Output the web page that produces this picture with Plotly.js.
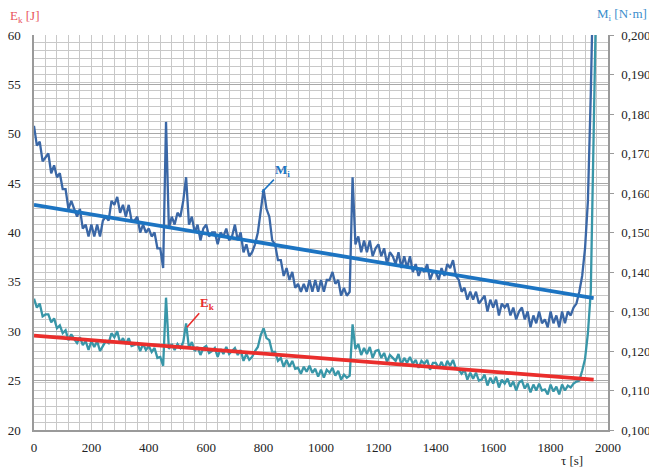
<!DOCTYPE html>
<html>
<head>
<meta charset="utf-8">
<script src="https://cdn.plot.ly/plotly-3.0.1.min.js"></script>
</head>
<body style="margin:0">
<div id="chart"></div>
<script>
// sampling of the measured series: start time and step [s]
const sampleStart = 0;
const sampleStep = 10;

// M_i [N·m], one value every 10 s from 0 s
const miValues = [
  0.177,0.172,0.173,0.168,0.169,0.170,0.165,0.167,0.164,0.165,
  0.161,0.161,0.156,0.158,0.156,0.154,0.156,0.151,0.152,0.149,
  0.152,0.149,0.152,0.149,0.153,0.154,0.153,0.158,0.157,0.159,
  0.155,0.157,0.154,0.157,0.153,0.153,0.154,0.150,0.152,0.150,
  0.151,0.149,0.150,0.146,0.146,0.141,0.178,0.151,0.154,0.152,
  0.155,0.154,0.158,0.164,0.152,0.154,0.150,0.152,0.148,0.151,
  0.152,0.149,0.150,0.150,0.147,0.150,0.149,0.151,0.148,0.149,
  0.152,0.148,0.150,0.145,0.147,0.144,0.145,0.147,0.150,0.155,
  0.161,0.156,0.154,0.148,0.147,0.143,0.143,0.139,0.141,0.138,
  0.140,0.136,0.137,0.135,0.137,0.135,0.138,0.135,0.138,0.135,
  0.138,0.135,0.138,0.138,0.140,0.137,0.138,0.134,0.136,0.134,
  0.135,0.164,0.147,0.149,0.145,0.148,0.145,0.148,0.144,0.146,
  0.147,0.144,0.146,0.142,0.145,0.144,0.142,0.145,0.141,0.144,
  0.141,0.144,0.140,0.142,0.139,0.141,0.140,0.142,0.138,0.140,
  0.140,0.138,0.141,0.139,0.142,0.141,0.143,0.139,0.138,0.135,
  0.136,0.133,0.135,0.133,0.135,0.132,0.133,0.134,0.130,0.133,
  0.131,0.133,0.129,0.132,0.131,0.132,0.129,0.131,0.128,0.130,
  0.131,0.128,0.130,0.126,0.129,0.127,0.130,0.127,0.128,0.126,
  0.130,0.127,0.129,0.126,0.130,0.127,0.130,0.129,0.131,0.132,
  0.135,0.139,0.146,0.158,0.185,0.220
];

// E_k [J], one value every 10 s from 0 s
const ekValues = [
  33.3,32.4,32.8,31.5,31.7,31.7,30.9,31.3,30.3,30.6,
  29.8,30.1,29.1,29.7,29.2,28.8,29.4,28.6,29.0,28.1,
  29.0,28.4,29.0,28.0,28.5,29.0,28.8,29.8,29.4,30.0,
  28.8,29.3,28.7,29.3,28.5,28.6,28.8,28.0,28.7,28.1,
  28.5,27.9,28.3,27.3,27.4,26.5,33.4,28.2,28.7,28.1,
  28.7,28.3,28.9,30.8,28.3,28.9,28.0,28.4,27.6,28.3,
  28.5,27.8,28.0,28.3,27.4,28.2,27.7,28.4,27.7,28.0,
  28.3,27.6,28.1,27.0,27.7,27.1,27.4,28.0,28.4,29.6,
  30.3,29.3,29.1,27.9,27.9,27.0,27.3,26.4,27.1,26.4,
  27.0,26.2,26.3,25.7,26.4,25.9,26.5,25.8,26.2,25.4,
  26.1,25.3,26.1,25.8,26.3,25.5,26.0,25.1,25.6,25.3,
  25.5,30.7,28.2,28.7,27.6,28.3,27.7,28.4,27.3,28.0,
  28.1,27.3,27.8,26.9,27.6,27.3,27.0,27.7,26.6,27.3,
  26.8,27.4,26.7,27.1,26.3,27.0,26.7,27.1,26.1,26.8,
  26.8,26.3,26.9,26.2,27.0,26.5,27.1,26.2,26.1,25.7,
  26.1,25.1,25.8,25.2,25.8,25.0,25.1,25.6,24.5,25.3,
  24.7,25.4,24.3,25.1,24.7,25.2,24.4,24.9,24.0,24.8,
  25.0,24.2,24.7,23.8,24.6,24.0,24.7,24.0,24.1,23.6,
  24.6,23.9,24.4,23.6,24.6,24.0,24.5,24.3,24.7,24.9,
  25.0,26.0,27.2,29.8,34.0,50.0,66.0
];

// linear trend lines (start / end)
const trendTime = [0, 1950];
const ekTrend = [29.55, 25.1];
const miTrend = [0.1570, 0.1334];

// axis ticks
const xTicks = [0, 200, 400, 600, 800, 1000, 1200, 1400, 1600, 1800, 2000];
const ekTicks = [20, 25, 30, 35, 40, 45, 50, 55, 60];
const miTicks = [0.100,0.110,0.120,0.130,0.140,0.150,0.160,0.170,0.180,0.190,0.200];

const colMi = '#3a67a6';
const colEk = '#3896a8';
const colMiTrend = '#1c74c2';
const colEkTrend = '#ea2e2c';
const gridLight = '#c8c8c8';
const gridDark = '#a8a8a8';
const axisCol = '#9a9a9a';

const traces = [
  {type:'scatter', mode:'lines', x0:sampleStart, dx:sampleStep, y:ekValues, yaxis:'y',
   line:{color:colEk, width:2.3}, hoverinfo:'skip'},
  {type:'scatter', mode:'lines', x:trendTime, y:ekTrend, yaxis:'y',
   line:{color:colEkTrend, width:3.8}, hoverinfo:'skip'},
  {type:'scatter', mode:'lines', x0:sampleStart, dx:sampleStep, y:miValues, yaxis:'y2',
   line:{color:colMi, width:2.3}, hoverinfo:'skip'},
  {type:'scatter', mode:'lines', x:trendTime, y:miTrend, yaxis:'y2',
   line:{color:colMiTrend, width:3.8}, hoverinfo:'skip'}
];

const serifFamily = 'Liberation Serif';
function txtFont(color, size) { return {family:serifFamily, size:size || 13, color:color || '#222'}; }

const layout = {
  width:649, height:470,
  margin:{l:34, r:41, t:35, b:40, pad:0},
  paper_bgcolor:'#fff', plot_bgcolor:'#fff',
  font:txtFont('#222', 13),
  separators:',.',
  showlegend:false,
  xaxis:{
    range:[0,2000], tickvals:xTicks, ticktext:xTicks.map(String),
    showgrid:true, gridcolor:gridLight, gridwidth:1.2,
    minor:{dtick:40, tick0:0, showgrid:true, gridcolor:gridLight, gridwidth:1.2},
    showline:true, linecolor:axisCol, linewidth:1.5, mirror:false,
    ticks:'', zeroline:false, ticklabelstandoff:5, fixedrange:true,
    tickfont:txtFont('#222', 13)
  },
  yaxis:{
    range:[20,60], tickvals:ekTicks, ticktext:ekTicks.map(String),
    showgrid:true, gridcolor:gridDark, gridwidth:1.1,
    showline:true, linecolor:axisCol, linewidth:1.5,
    ticks:'', zeroline:false, ticklabelstandoff:9, fixedrange:true,
    tickfont:txtFont('#222', 13)
  },
  yaxis2:{
    overlaying:'y', side:'right', range:[0.1,0.2],
    tickvals:miTicks, ticktext:miTicks.map(v => v.toFixed(3).replace('.', ',')),
    showgrid:true, gridcolor:gridLight, gridwidth:1.2,
    minor:{dtick:0.002, tick0:0.1, showgrid:true, gridcolor:gridLight, gridwidth:1.2},
    showline:true, linecolor:axisCol, linewidth:1.5,
    ticks:'outside', ticklen:4, tickcolor:axisCol, tickwidth:1.3,
    zeroline:false, ticklabelstandoff:5, fixedrange:true,
    tickfont:txtFont('#222', 13)
  },
  annotations:[
    {xref:'paper', yref:'paper', x:-0.0453, y:1.048, xanchor:'left', yanchor:'middle',
     text:'E<sub>k</sub> [J]', showarrow:false, font:txtFont('#e8525a', 13)},
    {xref:'paper', yref:'paper', x:0.977, y:1.053, xanchor:'left', yanchor:'middle',
     text:'M<sub>i</sub> [N·m]', showarrow:false, font:txtFont('#3a8ecc', 13)},
    {xref:'paper', yref:'paper', x:0.937, y:-0.078, xanchor:'center', yanchor:'middle',
     text:'τ [s]', showarrow:false, font:txtFont('#222', 13)},
    {xref:'x', yref:'y2', x:794, y:0.1602, ax:21, ay:-22,
     text:'<b>M<sub>i</sub></b>', showarrow:true, arrowhead:0, arrowwidth:1.6, arrowcolor:colMiTrend,
     font:txtFont(colMiTrend, 13)},
    {xref:'x', yref:'y', x:533, y:30.4, ax:21, ay:-24,
     text:'<b>E<sub>k</sub></b>', showarrow:true, arrowhead:0, arrowwidth:1.6, arrowcolor:colEkTrend,
     font:txtFont(colEkTrend, 13)}
  ]
};

Plotly.newPlot('chart', traces, layout, {displayModeBar:false});
</script>
</body>
</html>
